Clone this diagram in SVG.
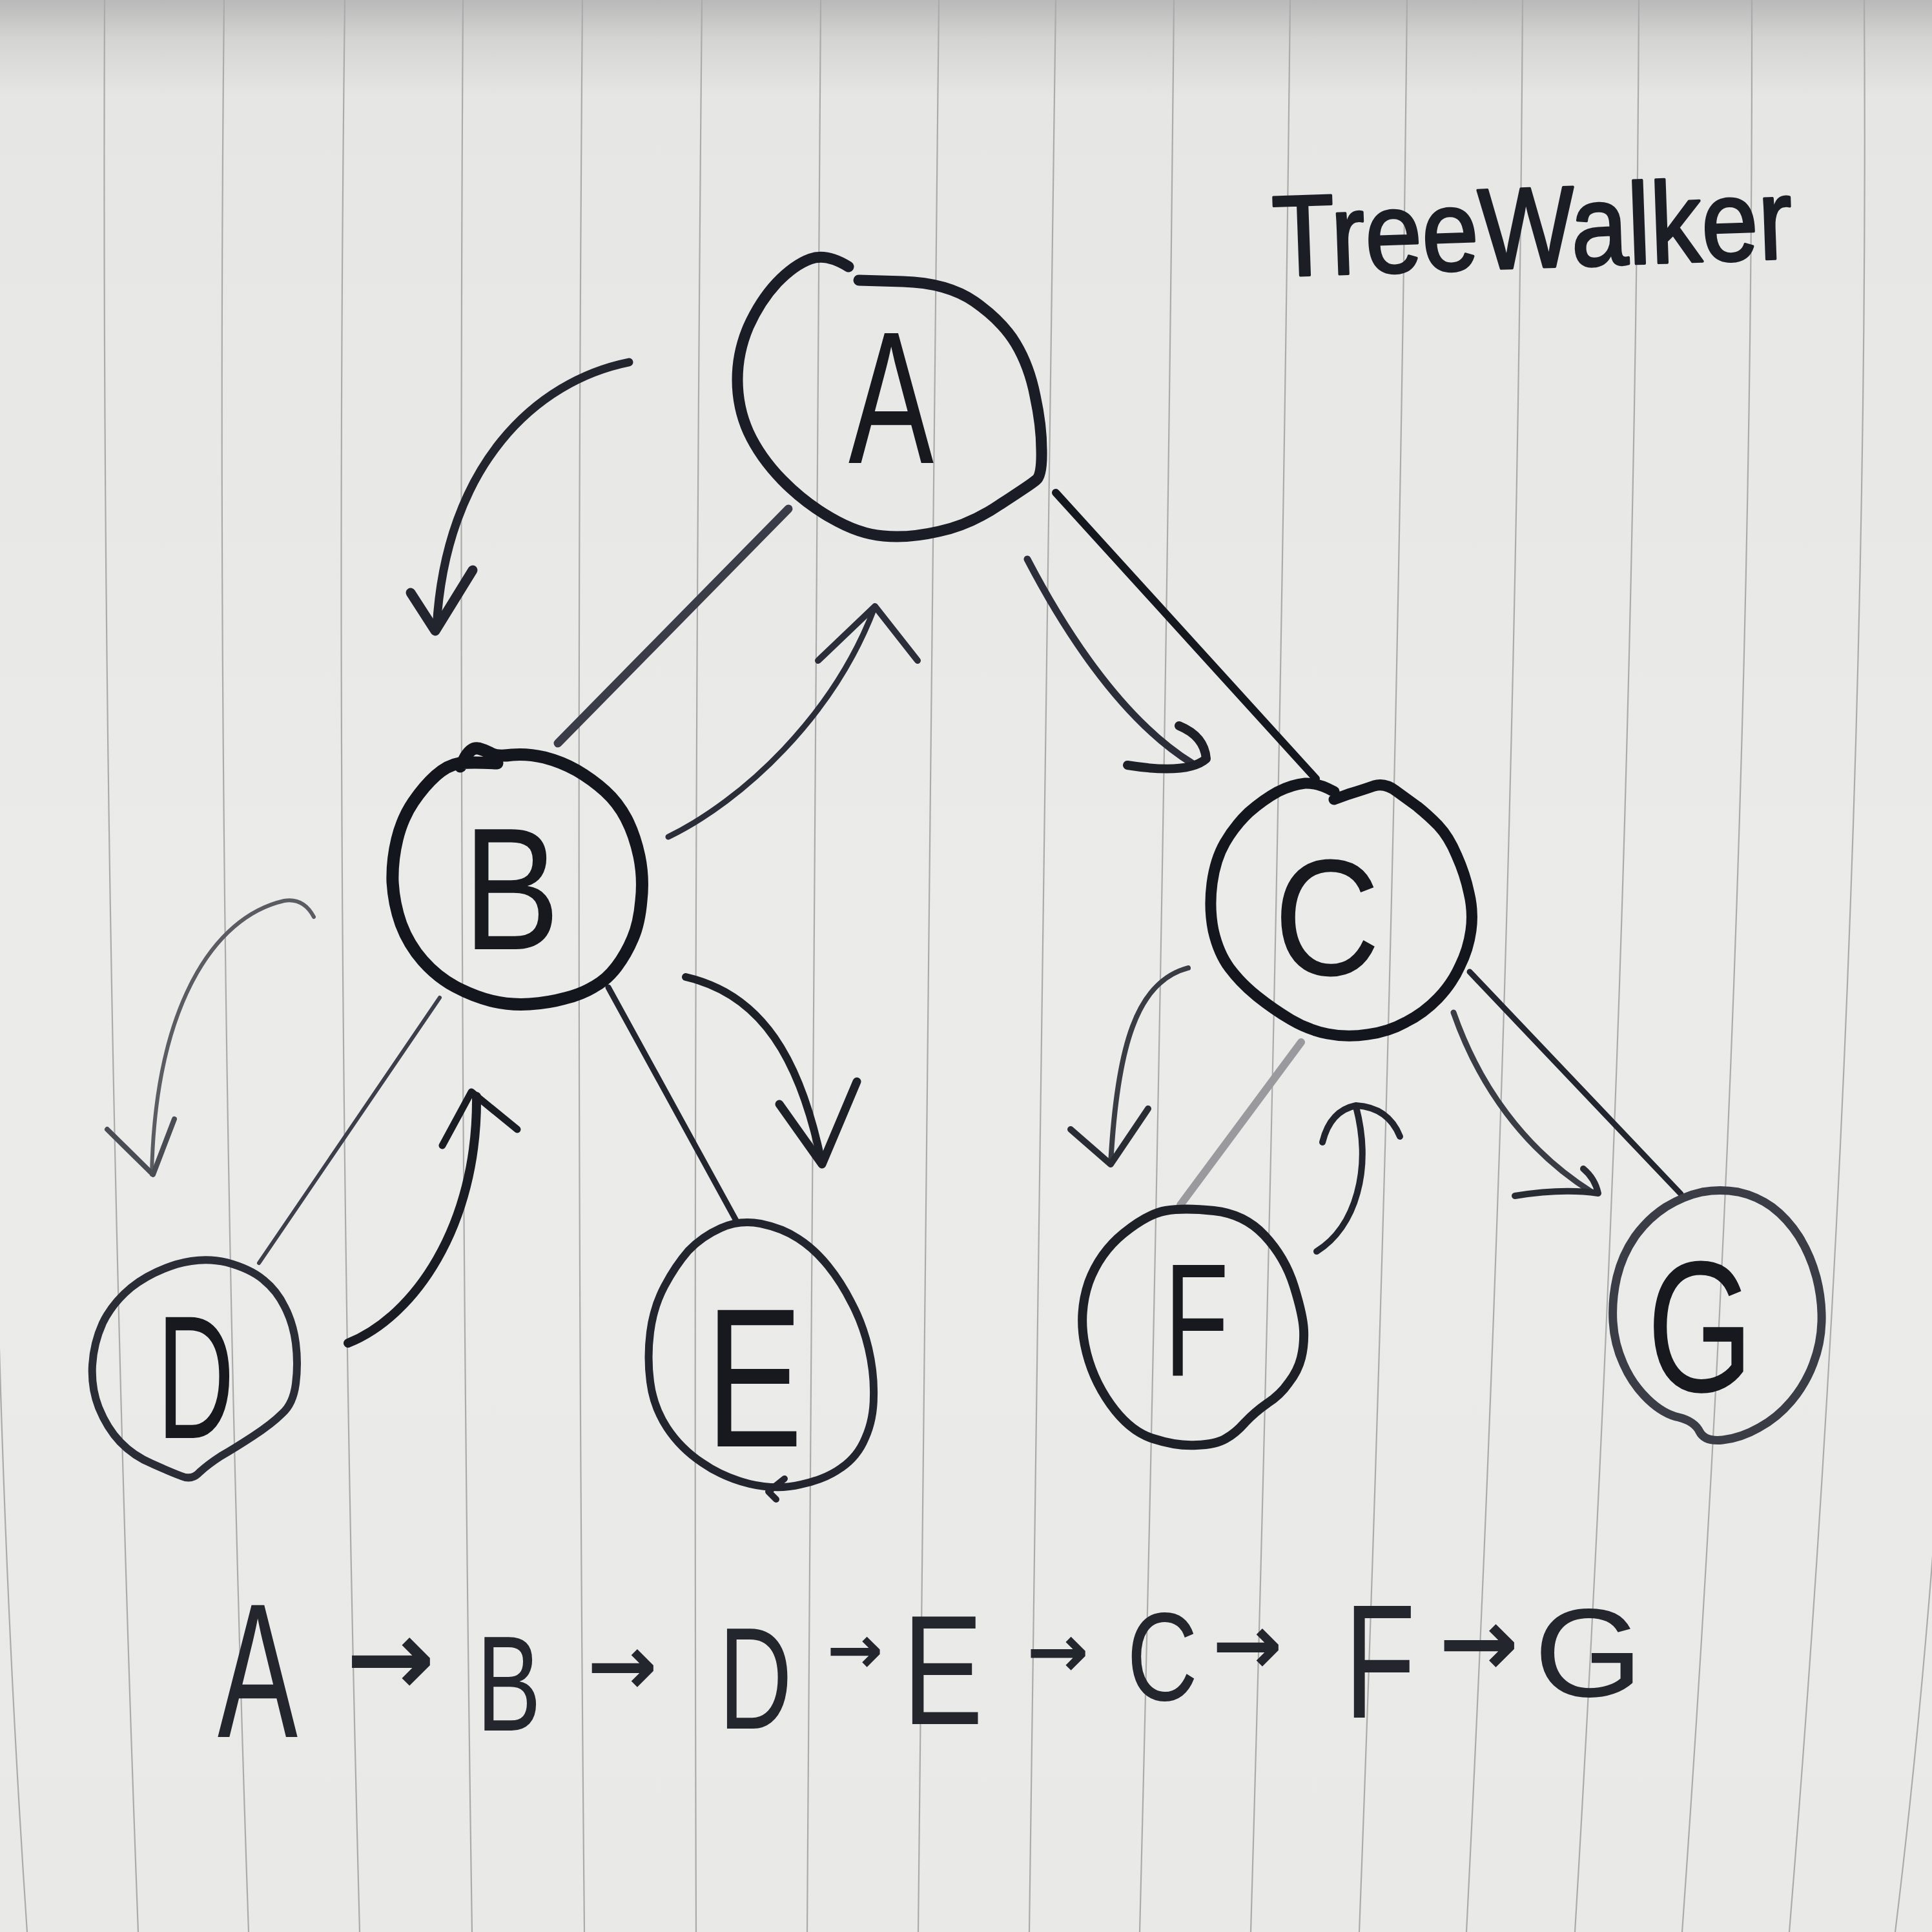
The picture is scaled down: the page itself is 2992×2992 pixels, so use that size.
<svg xmlns="http://www.w3.org/2000/svg" width="2992" height="2992" viewBox="0 0 2992 2992">
<defs>
<linearGradient id="paperGrad" x1="0" y1="0" x2="0" y2="1">
<stop offset="0" stop-color="#b9b9b9"/>
<stop offset="0.02" stop-color="#d4d4d3"/>
<stop offset="0.05" stop-color="#e6e6e5"/>
<stop offset="0.5" stop-color="#ebebea"/>
<stop offset="1" stop-color="#e9e9e8"/>
</linearGradient>
<style>
.rule{fill:none;stroke:#ababab;stroke-width:2.2}
.edge{fill:none;stroke-linecap:round;stroke-linejoin:round}
.walk{fill:none;stroke-linecap:round;stroke-linejoin:round}
.ring{fill:none;stroke-linecap:round;stroke-linejoin:round}
.lbl{font-family:"Liberation Sans","DejaVu Sans",Arial,sans-serif;text-anchor:middle;fill:#17191f}
.seq{font-family:"Liberation Sans","DejaVu Sans",Arial,sans-serif;text-anchor:middle;fill:#24262e}
.arr{font-family:"DejaVu Sans","Liberation Sans",sans-serif;font-weight:bold;text-anchor:middle;fill:#24262e}
</style>
</defs>

<rect x="0" y="0" width="2992" height="2992" fill="url(#paperGrad)"/>

<g id="paper-lines">
<path class="rule" d="M162,0 Q156,1450 214,2992"/>
<path class="rule" d="M347,0 Q332,1450 385,2992"/>
<path class="rule" d="M534,0 Q516,1450 557,2992"/>
<path class="rule" d="M717,0 Q708,1450 731,2992"/>
<path class="rule" d="M902,0 Q890,1450 905,2992"/>
<path class="rule" d="M1087,0 Q1073,1450 1078,2992"/>
<path class="rule" d="M1271,0 Q1259,1450 1250,2992"/>
<path class="rule" d="M1454,0 Q1444,1450 1422,2992"/>
<path class="rule" d="M1635,0 Q1621,1450 1594,2992"/>
<path class="rule" d="M1818,0 Q1804,1450 1765,2992"/>
<path class="rule" d="M1998,0 Q1982,1450 1937,2992"/>
<path class="rule" d="M2179,0 Q2164,1450 2105,2992"/>
<path class="rule" d="M2358,0 Q2349,1450 2271,2992"/>
<path class="rule" d="M2538,0 Q2531,1450 2439,2992"/>
<path class="rule" d="M2713,0 Q2715,1450 2605,2992"/>
<path class="rule" d="M2887,0 Q2897,1450 2771,2992"/>
<path class="rule" d="M-12,1500 Q-5,2300 42,2992"/>
<path class="rule" d="M3041,1450 Q3020,2300 2935,2992"/>
</g>

<g id="title">
<text x="1972" y="414" font-family="Liberation Sans, DejaVu Sans, Arial, sans-serif" font-size="178" fill="#1c1e26" stroke="#1c1e26" stroke-width="4" stroke-linejoin="round" textLength="805" lengthAdjust="spacingAndGlyphs" transform="rotate(-2 2375 400)">TreeWalker</text>
</g>

<g id="connectors">
<path class="edge" stroke="#3a3d48" stroke-width="13" d="M1221,788 L864,1151"/>
<path class="edge" stroke="#15171f" stroke-width="12" d="M1635,763 L2038,1206"/>
<path class="edge" stroke="#3c3f4a" stroke-width="6" d="M681,1545 L401,1956"/>
<path class="edge" stroke="#22252e" stroke-width="9" d="M942,1529 L1141,1892"/>
<path class="edge" stroke="#9a9a9e" stroke-width="12" d="M2015,1614 L1828,1866"/>
<path class="edge" stroke="#22252e" stroke-width="9" d="M2276,1505 L2603,1849"/>

<g id="walk-A-B">
<path class="walk" stroke="#22252e" stroke-width="13" d="M974,561 C830,590 690,720 676,972"/>
<path class="walk" stroke="#22252e" stroke-width="15" d="M636,918 L674,977 L732,883"/>
</g>
<g id="walk-B-A">
<path class="walk" stroke="#2b2e38" stroke-width="9" d="M1035,1296 C1150,1240 1290,1110 1354,942"/>
<path class="walk" stroke="#2b2e38" stroke-width="10" d="M1267,1023 L1355,939 L1421,1023"/>
</g>
<g id="walk-A-C">
<path class="walk" stroke="#2b2e38" stroke-width="11" d="M1591,866 C1640,960 1730,1110 1846,1182"/>
<path class="walk" stroke="#1e2028" stroke-width="14" d="M1746,1185 Q1840,1200 1868,1175 Q1865,1140 1826,1124"/>
</g>
<g id="walk-B-D">
<path class="walk" stroke="#5a5c62" stroke-width="6" d="M486,1420 Q470,1390 440,1395 C330,1420 240,1560 235,1819"/>
<path class="walk" stroke="#4a4c54" stroke-width="8" d="M166,1749 L237,1819 L270,1733"/>
</g>
<g id="walk-D-B">
<path class="walk" stroke="#1a1c24" stroke-width="14" d="M539,2080 C640,2040 740,1900 738,1698"/>
<path class="walk" stroke="#1a1c24" stroke-width="11" d="M685,1774 L730,1691 L801,1749"/>
</g>
<g id="walk-B-E">
<path class="walk" stroke="#1e2028" stroke-width="12" d="M1062,1513 C1180,1540 1240,1640 1273,1803"/>
<path class="walk" stroke="#1e2028" stroke-width="13" d="M1207,1710 L1273,1803 L1327,1675"/>
</g>
<g id="walk-C-F">
<path class="walk" stroke="#3a3c44" stroke-width="8" d="M1840,1499 C1760,1520 1730,1620 1720,1803"/>
<path class="walk" stroke="#2a2c34" stroke-width="10" d="M1658,1749 L1720,1803 L1778,1717"/>
</g>
<g id="walk-F-C">
<path class="walk" stroke="#22252e" stroke-width="10" d="M2039,1938 C2100,1900 2125,1810 2100,1714"/>
<path class="walk" stroke="#22252e" stroke-width="10" d="M2048,1769 Q2060,1720 2100,1712 Q2150,1715 2168,1760"/>
</g>
<g id="walk-C-G">
<path class="walk" stroke="#3a3c44" stroke-width="9" d="M2251,1568 C2290,1680 2360,1780 2465,1846"/>
<path class="walk" stroke="#2a2c34" stroke-width="10" d="M2346,1852 Q2420,1840 2475,1848 Q2470,1825 2452,1810"/>
</g>
</g>

<g id="node-A">
<path class="ring" stroke="#1a1c26" stroke-width="17" d="M1330,434 L1398,436 Q1467,438 1509,467 Q1552,497 1573,532 Q1594,567 1603,613 Q1613,659 1613,697 Q1614,736 1605,743 Q1597,750 1549,781 Q1502,813 1454,823 Q1406,834 1368,830 Q1330,827 1287,802 Q1245,778 1211,743 Q1177,708 1159,669 Q1142,631 1142,588 Q1142,546 1159,506 Q1177,466 1203,438 Q1230,410 1255,401 Q1280,392 1314,413"/>
<text class="lbl" x="1380" y="717" font-size="292" textLength="132" lengthAdjust="spacingAndGlyphs">A</text>
</g>

<g id="node-B">
<path class="ring" stroke="#14161e" stroke-width="19" d="M713,1187 L721,1172 Q730,1157 741,1159 Q752,1162 761,1167 Q770,1172 793,1169 Q817,1167 843,1173 Q870,1180 893,1193 Q917,1207 937,1225 Q957,1243 970,1268 Q983,1293 990,1326 Q997,1360 993,1395 Q990,1430 980,1453 Q970,1477 955,1497 Q940,1517 920,1528 Q900,1540 875,1546 Q850,1553 820,1555 Q790,1557 761,1550 Q733,1543 705,1528 Q677,1513 655,1488 Q633,1463 621,1431 Q610,1400 608,1366 Q607,1333 615,1300 Q623,1267 640,1242 Q657,1217 675,1201 Q693,1185 711,1182 Q730,1180 770,1182"/>
<text class="lbl" x="792" y="1470" font-size="270" textLength="150" lengthAdjust="spacingAndGlyphs">B</text>
</g>

<g id="node-C">
<path class="ring" stroke="#14161e" stroke-width="17" d="M2066,1238 L2088,1230 Q2111,1223 2128,1217 Q2145,1212 2162,1225 Q2180,1238 2195,1249 Q2210,1261 2227,1278 Q2244,1296 2256,1325 Q2269,1354 2275,1383 Q2282,1412 2278,1441 Q2274,1470 2261,1496 Q2249,1523 2227,1546 Q2205,1569 2177,1583 Q2150,1598 2118,1602 Q2086,1607 2056,1601 Q2026,1595 1999,1579 Q1972,1563 1947,1543 Q1922,1523 1904,1499 Q1887,1476 1879,1441 Q1872,1406 1877,1368 Q1882,1331 1897,1305 Q1912,1279 1934,1258 Q1957,1238 1979,1226 Q2001,1215 2021,1213 Q2041,1212 2066,1226"/>
<text class="lbl" x="2055" y="1510" font-size="257" textLength="165" lengthAdjust="spacingAndGlyphs">C</text>
</g>

<g id="node-D">
<path class="ring" stroke="#2a2c36" stroke-width="12" d="M273,1958 Q314,1946 351,1955 Q388,1965 408,1982 Q429,1999 441,2024 Q454,2049 458,2080 Q462,2112 458,2143 Q454,2174 437,2189 Q421,2205 392,2224 Q363,2243 342,2255 Q322,2268 309,2280 Q297,2293 281,2286 Q265,2280 236,2267 Q207,2255 186,2233 Q166,2212 153,2180 Q141,2149 143,2114 Q145,2080 159,2049 Q174,2018 203,1994 Q232,1971 273,1958 Z"/>
<text class="lbl" x="303" y="2227" font-size="272" textLength="120" lengthAdjust="spacingAndGlyphs" fill="#22242c">D</text>
</g>

<g id="node-E">
<path class="ring" stroke="#22242e" stroke-width="12" d="M1116,1902 Q1145,1889 1178,1895 Q1212,1902 1236,1918 Q1261,1934 1282,1960 Q1303,1986 1319,2018 Q1336,2050 1345,2088 Q1354,2127 1353,2162 Q1353,2198 1340,2227 Q1328,2256 1303,2273 Q1278,2291 1240,2299 Q1203,2308 1161,2298 Q1120,2288 1087,2265 Q1054,2243 1033,2211 Q1012,2179 1007,2140 Q1002,2102 1007,2063 Q1012,2024 1029,1992 Q1046,1960 1066,1937 Q1087,1915 1116,1902 Z"/>
<path class="ring" stroke="#22242e" stroke-width="10" d="M1215,2290 L1190,2310 L1202,2322"/>
<text class="lbl" x="1168" y="2240" font-size="307" textLength="150" lengthAdjust="spacingAndGlyphs" fill="#22242c">E</text>
</g>

<g id="node-F">
<path class="ring" stroke="#1e2028" stroke-width="14" d="M1805,1875 Q1833,1870 1880,1875 Q1927,1880 1958,1913 Q1990,1947 2004,1992 Q2018,2037 2019,2060 Q2020,2083 2015,2103 Q2010,2123 1996,2141 Q1983,2160 1963,2173 Q1943,2187 1928,2203 Q1913,2220 1898,2228 Q1883,2237 1853,2238 Q1823,2240 1786,2228 Q1750,2217 1720,2175 Q1690,2133 1680,2083 Q1670,2033 1686,1986 Q1703,1940 1740,1910 Q1777,1880 1805,1875 Z"/>
<text class="lbl" x="1853" y="2130" font-size="249" textLength="100" lengthAdjust="spacingAndGlyphs">F</text>
</g>

<g id="node-G">
<path class="ring" stroke="#3a3c46" stroke-width="13" d="M2580,1869 Q2608,1852 2636,1846 Q2664,1841 2692,1846 Q2720,1852 2744,1869 Q2768,1887 2786,1915 Q2804,1944 2813,1978 Q2822,2013 2821,2047 Q2820,2081 2808,2112 Q2796,2144 2774,2170 Q2752,2196 2724,2211 Q2696,2227 2668,2230 Q2640,2233 2632,2217 Q2624,2201 2600,2195 Q2576,2190 2552,2167 Q2528,2144 2514,2112 Q2500,2081 2498,2047 Q2496,2013 2504,1978 Q2512,1944 2532,1915 Q2552,1887 2580,1869 Z"/>
<text class="lbl" x="2633" y="2155" font-size="290" textLength="165" lengthAdjust="spacingAndGlyphs" fill="#4a4c54">G</text>
</g>

<g id="sequence">
<text class="seq" x="399" y="2690" font-size="297" textLength="124" lengthAdjust="spacingAndGlyphs">A</text>
<text class="arr" x="605" y="2625" font-size="165">→</text>
<text class="seq" x="788" y="2680" font-size="210" textLength="100" lengthAdjust="spacingAndGlyphs">B</text>
<text class="arr" x="964" y="2624" font-size="130">→</text>
<text class="seq" x="1170" y="2677" font-size="225" textLength="114" lengthAdjust="spacingAndGlyphs">D</text>
<text class="arr" x="1324" y="2591" font-size="104">→</text>
<text class="seq" x="1460" y="2670" font-size="242" textLength="125" lengthAdjust="spacingAndGlyphs">E</text>
<text class="arr" x="1638" y="2597" font-size="115">→</text>
<text class="seq" x="1800" y="2633" font-size="195" textLength="110" lengthAdjust="spacingAndGlyphs">C</text>
<text class="arr" x="1932" y="2592" font-size="130">→</text>
<text class="seq" x="2137" y="2660" font-size="250" textLength="110" lengthAdjust="spacingAndGlyphs">F</text>
<text class="arr" x="2290" y="2595" font-size="148">→</text>
<text class="seq" x="2460" y="2627" font-size="195" textLength="169" lengthAdjust="spacingAndGlyphs">G</text>
</g>
</svg>
